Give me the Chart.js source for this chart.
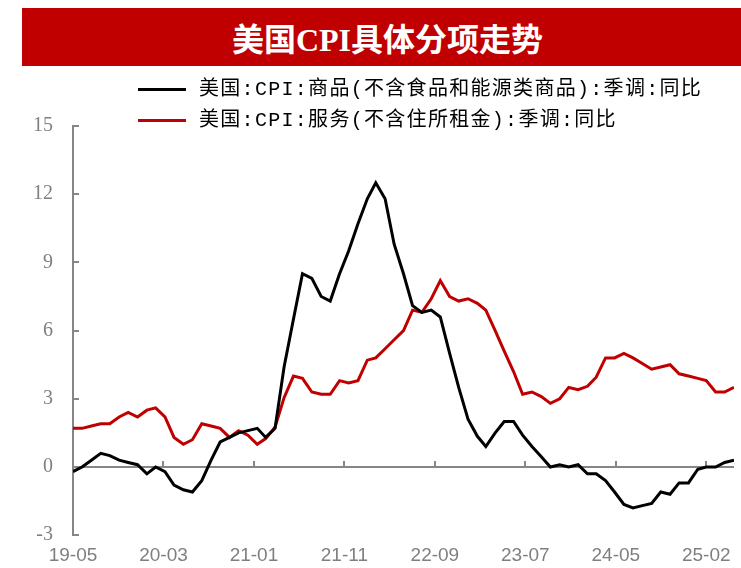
<!DOCTYPE html>
<html>
<head>
<meta charset="utf-8">
<script src="https://cdn.jsdelivr.net/npm/chart.js@4.4.1/dist/chart.umd.min.js"></script>
<style>
  html, body { margin: 0; padding: 0; background: #fff; }
  #wrap { position: relative; width: 741px; height: 568px; overflow: hidden; }
  #banner { position: absolute; left: 22px; top: 8px; width: 719px; height: 58px; background: #c00000;
    color: #fff; text-align: center; font: bold 32px "Noto Sans CJK SC"; line-height: 58px; padding-left: 12px; box-sizing: border-box; }
  #banner .en { font-family: "Liberation Serif"; }
  .legend { position: absolute; left: 138px; height: 30px; line-height: 30px; font-size: 20px;
    font-family: "Liberation Mono", "Noto Sans CJK SC"; letter-spacing: 1.3px; color: #000; white-space: nowrap; }
  .legend i { display: inline-block; width: 48px; height: 3px; vertical-align: middle; margin-right: 13px; }
  canvas { position: absolute; left: 0; top: 0; }
</style>
</head>
<body>
<div id="wrap">
  <canvas id="myChart" width="741" height="568"></canvas>
  <div id="banner">美国<span class="en">CPI</span>具体分项走势</div>
  <div class="legend" style="top:75px"><i style="background:#000"></i>美国:CPI:商品(不含食品和能源类商品):季调:同比</div>
  <div class="legend" style="top:106px"><i style="background:#c00000"></i>美国:CPI:服务(不含住所租金):季调:同比</div>
</div>
<script>
// monthly, 2019-05 .. 2025-05
var firstYear = 2019, firstMonth = 5, monthCount = 73
var months = []
for (var k = 0; k < monthCount; k++) {
  var mm = firstMonth - 1 + k
  months.push((firstYear + Math.floor(mm / 12)) + '-' + String(mm % 12 + 1).padStart(2, '0'))
}

// 美国:CPI:商品(不含食品和能源类商品):季调:同比
var coreGoods = [
  -0.2, 0.0, 0.3, 0.6, 0.5, 0.3, 0.2, 0.1, -0.3, 0.0,
  -0.2, -0.8, -1.0, -1.1, -0.6, 0.3, 1.1, 1.3, 1.5, 1.6,
  1.7, 1.3, 1.7, 4.4, 6.5, 8.5, 8.3, 7.5, 7.3, 8.5,
  9.5, 10.7, 11.8, 12.5, 11.8, 9.8, 8.5, 7.1, 6.8, 6.9,
  6.6, 5.0, 3.5, 2.1, 1.35, 0.9, 1.5, 2.0, 2.0, 1.4,
  0.9, 0.45, 0.0, 0.1, 0.0, 0.1, -0.3, -0.3, -0.6, -1.1,
  -1.65, -1.8, -1.7, -1.6, -1.1, -1.2, -0.7, -0.7, -0.1, 0.0,
  0.0, 0.2, 0.3
]
// 美国:CPI:服务(不含住所租金):季调:同比
var servicesExRent = [
  1.7, 1.7, 1.8, 1.9, 1.9, 2.2, 2.4, 2.2, 2.5, 2.6,
  2.2, 1.3, 1.0, 1.2, 1.9, 1.8, 1.7, 1.3, 1.6, 1.4,
  1.0, 1.25, 1.75, 3.05, 4.0, 3.9, 3.3, 3.2, 3.2, 3.8,
  3.7, 3.8, 4.7, 4.8, 5.2, 5.6, 6.0, 6.9, 6.8, 7.4,
  8.2, 7.5, 7.3, 7.4, 7.2, 6.9, 6.0, 5.1, 4.2, 3.2,
  3.3, 3.1, 2.8, 3.0, 3.5, 3.4, 3.55, 3.95, 4.8, 4.8,
  5.0, 4.8, 4.55, 4.3, 4.4, 4.5, 4.1, 4.0, 3.9, 3.8,
  3.3, 3.3, 3.5
]
// date axis, a label every 300 days from 2019-05-31
var tickLabels = ['19-05', '20-03', '21-01', '21-11', '22-09', '23-07', '24-05', '25-02']
var tickStep = 300
var yTicks = [-3, 0, 3, 6, 9, 12, 15]

var grey = '#868686'
function dayOf(label) {
  var p = label.split('-')
  return (Date.UTC(+p[0], +p[1], 0) - Date.UTC(firstYear, firstMonth, 0)) / 864e5
}
function points(values) {
  return months.map(function (m, i) { return { x: dayOf(m), y: values[i] } })
}

// zero line with ticks pointing up, inner ticks on the y axis
var axisMarks = {
  id: 'axisMarks',
  beforeDatasetsDraw: function (chart) {
    var ctx = chart.ctx, xs = chart.scales.x, ys = chart.scales.y, area = chart.chartArea
    var y0 = ys.getPixelForValue(0)
    ctx.save()
    ctx.strokeStyle = grey
    ctx.lineWidth = 2
    ctx.beginPath()
    ctx.moveTo(area.left, y0)
    ctx.lineTo(area.right, y0)
    for (var d = tickStep; d <= xs.max; d += tickStep) {
      var px = Math.round(xs.getPixelForValue(d))
      ctx.moveTo(px, y0)
      ctx.lineTo(px, y0 - 6)
    }
    yTicks.forEach(function (v) {
      var py = Math.round(ys.getPixelForValue(v))
      ctx.moveTo(area.left, py)
      ctx.lineTo(area.left + 6, py)
    })
    ctx.stroke()
    ctx.restore()
  }
}

var ctx = document.getElementById('myChart').getContext('2d')
var myChart = new Chart(ctx, {
  type: 'line',
  data: {
    datasets: [{
      label: '美国:CPI:商品(不含食品和能源类商品):季调:同比',
      data: points(coreGoods),
      borderColor: '#000000',
      backgroundColor: '#000000',
      borderWidth: 3,
      pointRadius: 0,
      fill: false,
    }, {
      label: '美国:CPI:服务(不含住所租金):季调:同比',
      data: points(servicesExRent),
      borderColor: '#c00000',
      backgroundColor: '#c00000',
      borderWidth: 3,
      pointRadius: 0,
      fill: false,
    }]
  },
  options: {
    responsive: false,
    animation: false,
    devicePixelRatio: 1,
    layout: { padding: { left: 13, right: 7, top: 126, bottom: -8 } },
    plugins: { legend: { display: false }, tooltip: { enabled: false } },
    scales: {
      x: {
        type: 'linear',
        min: 0,
        max: dayOf(months[months.length - 1]),
        grid: { display: false, drawTicks: false },
        border: { display: false },
        ticks: {
          stepSize: tickStep,
          includeBounds: false,
          autoSkip: false,
          maxRotation: 0,
          padding: 9,
          color: '#7f7f7f',
          font: { family: '"Liberation Sans Narrow", "Liberation Sans"', size: 19 },
          callback: function (v) {
            var k = Math.round(v / tickStep)
            return Math.abs(v - k * tickStep) < 1 ? (tickLabels[k] || '') : ''
          }
        }
      },
      y: {
        min: -3,
        max: 15,
        grid: { display: false, drawTicks: false },
        border: { display: true, color: grey, width: 2 },
        ticks: {
          stepSize: 3,
          padding: 20,
          color: '#7f7f7f',
          font: { family: '"Liberation Serif"', size: 20 }
        }
      }
    }
  },
  plugins: [axisMarks]
})
</script>
</body>
</html>
